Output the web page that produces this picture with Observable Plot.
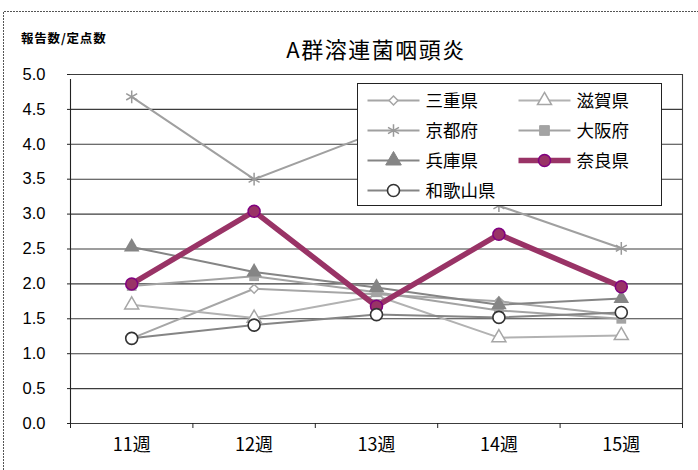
<!DOCTYPE html>
<html lang="ja">
<head>
<meta charset="utf-8">
<script src="https://cdn.jsdelivr.net/npm/d3@7"></script>
<script src="https://cdn.jsdelivr.net/npm/@observablehq/plot@0.6"></script>
<style>
  html, body { margin: 0; padding: 0; background: #fff; }
  #wrap { position: relative; width: 698px; height: 470px; overflow: hidden; }
  #wrap > svg { position: absolute; left: 0; top: 0; }
</style>
</head>
<body>
<div id="wrap"></div>
<script>
// Weekly reports per sentinel site, Kinki prefectures
const weeks = ["11週", "12週", "13週", "14週", "15週"];
const yTicks = [0, 0.5, 1, 1.5, 2, 2.5, 3, 3.5, 4, 4.5, 5];

const mie      = [1.22, 1.93, 1.85, 1.75, 1.55];
const shiga    = [1.70, 1.51, 1.83, 1.23, 1.26];
const kyoto    = [4.68, 3.50, 4.17, 3.12, 2.51];
const osaka    = [1.97, 2.11, 1.88, 1.62, 1.50];
const hyogo    = [2.53, 2.17, 1.95, 1.70, 1.79];
const nara     = [2.00, 3.04, 1.68, 2.71, 1.96];
const wakayama = [1.22, 1.41, 1.56, 1.52, 1.59];

const title = "A群溶連菌咽頭炎";
const yLabel = "報告数/定点数";

// drawing style of each series, in drawing order
const series = [
  {name: "三重県",   values: mie,      line: "#a6a6a6", w: 2, symbol: "diamond2", r: 4,   fill: "#fff",    stroke: "#a6a6a6", sw: 1.5},
  {name: "滋賀県",   values: shiga,    line: "#b2b2b2", w: 2, symbol: "triangle", r: 5.2, fill: "#fff",    stroke: "#a6a6a6", sw: 1.5},
  {name: "京都府",   values: kyoto,    line: "#a0a0a0", w: 2, symbol: "asterisk", r: 6,   fill: "none",    stroke: "#999999", sw: 1.5},
  {name: "大阪府",   values: osaka,    line: "#a3a3a3", w: 2, symbol: "square",   r: 5.5, fill: "#a3a3a3", stroke: "#a3a3a3", sw: 0},
  {name: "兵庫県",   values: hyogo,    line: "#858585", w: 2, symbol: "triangle", r: 5.8, fill: "#858585", stroke: "#858585", sw: 0},
  {name: "奈良県",   values: nara,     line: "#993366", w: 5.5, symbol: "circle", r: 6,   fill: "#993366", stroke: "#800080", sw: 1.5},
  {name: "和歌山県", values: wakayama, line: "#858585", w: 2, symbol: "circle",   r: 6,   fill: "#fff",    stroke: "#333333", sw: 1.6}
];

const pos = weeks.map((_, i) => i + 1);          // category centres
const bounds = [0.5, 1.5, 2.5, 3.5, 4.5, 5.5];   // category boundaries

const seriesMarks = series.flatMap(s => {
  const rows = s.values.map((v, i) => ({x: pos[i], y: v}));
  return [
    Plot.line(rows, {x: "x", y: "y", stroke: s.line, strokeWidth: s.w, strokeLinejoin: "round"}),
    Plot.dot(rows, {x: "x", y: "y", symbol: () => s.symbol, r: s.r, fill: s.fill, stroke: s.stroke, strokeWidth: s.sw})
  ];
});

const chart = Plot.plot({
  width: 698,
  height: 470,
  marginLeft: 70,
  marginRight: 16,
  marginTop: 74,
  marginBottom: 47,
  style: {fontFamily: "'Liberation Sans', 'Noto Sans CJK JP', sans-serif", fontSize: "16px", color: "#000", background: "transparent"},
  x: {type: "linear", domain: [0.5, 5.5], axis: null},
  y: {type: "linear", domain: [0, 5], axis: null},
  symbol: {type: "identity"},
  marks: [
    Plot.ruleY(yTicks, {stroke: "#3c3c3c", strokeWidth: 1.1}),
    Plot.ruleX([5.5], {y1: 0, y2: 5, stroke: "#3c3c3c", strokeWidth: 1.1}),
    Plot.ruleX([0.5], {y1: 0, y2: 5, insetBottom: -5, stroke: "#222", strokeWidth: 1.1}),
    Plot.axisY({ticks: yTicks, label: null, tickSize: 3, tickPadding: 22, tickFormat: d3.format(".1f"), fontSize: 16.5, stroke: "#222"}),
    Plot.axisX({ticks: bounds, label: null, tickSize: 5, tickFormat: () => "", stroke: "#222"}),
    Plot.axisX({ticks: pos, label: null, tickSize: 0, tickPadding: 15, tickFormat: i => weeks[i - 1], fontSize: 18,
      fontFamily: "'Noto Sans CJK JP', sans-serif"}),
    ...seriesMarks
  ]
});

const wrap = document.getElementById("wrap");
wrap.appendChild(chart);

// overlay: outer border, title, y label and legend
const svg = d3.select(wrap).append("svg")
  .attr("width", 698).attr("height", 470)
  .style("font-family", "'Noto Sans CJK JP', 'Liberation Sans', sans-serif");

svg.append("path")
  .attr("d", "M3.5,470 V11.5 H698")
  .attr("fill", "none").attr("stroke", "#555").attr("stroke-width", 1)
  .attr("stroke-dasharray", "2,1");

svg.append("text")
  .attr("x", 376).attr("y", 58)
  .attr("text-anchor", "middle")
  .attr("font-size", 22).attr("letter-spacing", 1.5)
  .text(title);

svg.append("text")
  .attr("x", 21).attr("y", 43)
  .attr("font-size", 12.5).attr("font-weight", "bold").attr("letter-spacing", 0.8)
  .text(yLabel);

const symbolType = {diamond2: d3.symbolDiamond2, triangle: d3.symbolTriangle, asterisk: d3.symbolAsterisk, square: d3.symbolSquare, circle: d3.symbolCircle};

const lg = svg.append("g").attr("transform", "translate(357.5,83.5)");
lg.append("rect").attr("width", 304).attr("height", 122)
  .attr("fill", "#fff").attr("stroke", "#222").attr("stroke-width", 1);

series.forEach((s, k) => {
  const col = k % 2, row = Math.floor(k / 2);
  const x0 = col === 0 ? 10 : 161;
  const y0 = 17 + row * 30;
  const g = lg.append("g").attr("transform", `translate(${x0},${y0})`);
  g.append("line").attr("x1", 0).attr("x2", 52).attr("y1", 0).attr("y2", 0)
    .attr("stroke", s.line).attr("stroke-width", s.w);
  g.append("path")
    .attr("transform", "translate(26,0)")
    .attr("d", d3.symbol(symbolType[s.symbol], Math.PI * s.r * s.r)())
    .attr("fill", s.fill).attr("stroke", s.stroke).attr("stroke-width", s.sw || null);
  g.append("text").attr("x", 58).attr("y", 0).attr("dy", "0.36em")
    .attr("font-size", 17.5).text(s.name);
});
</script>
</body>
</html>
